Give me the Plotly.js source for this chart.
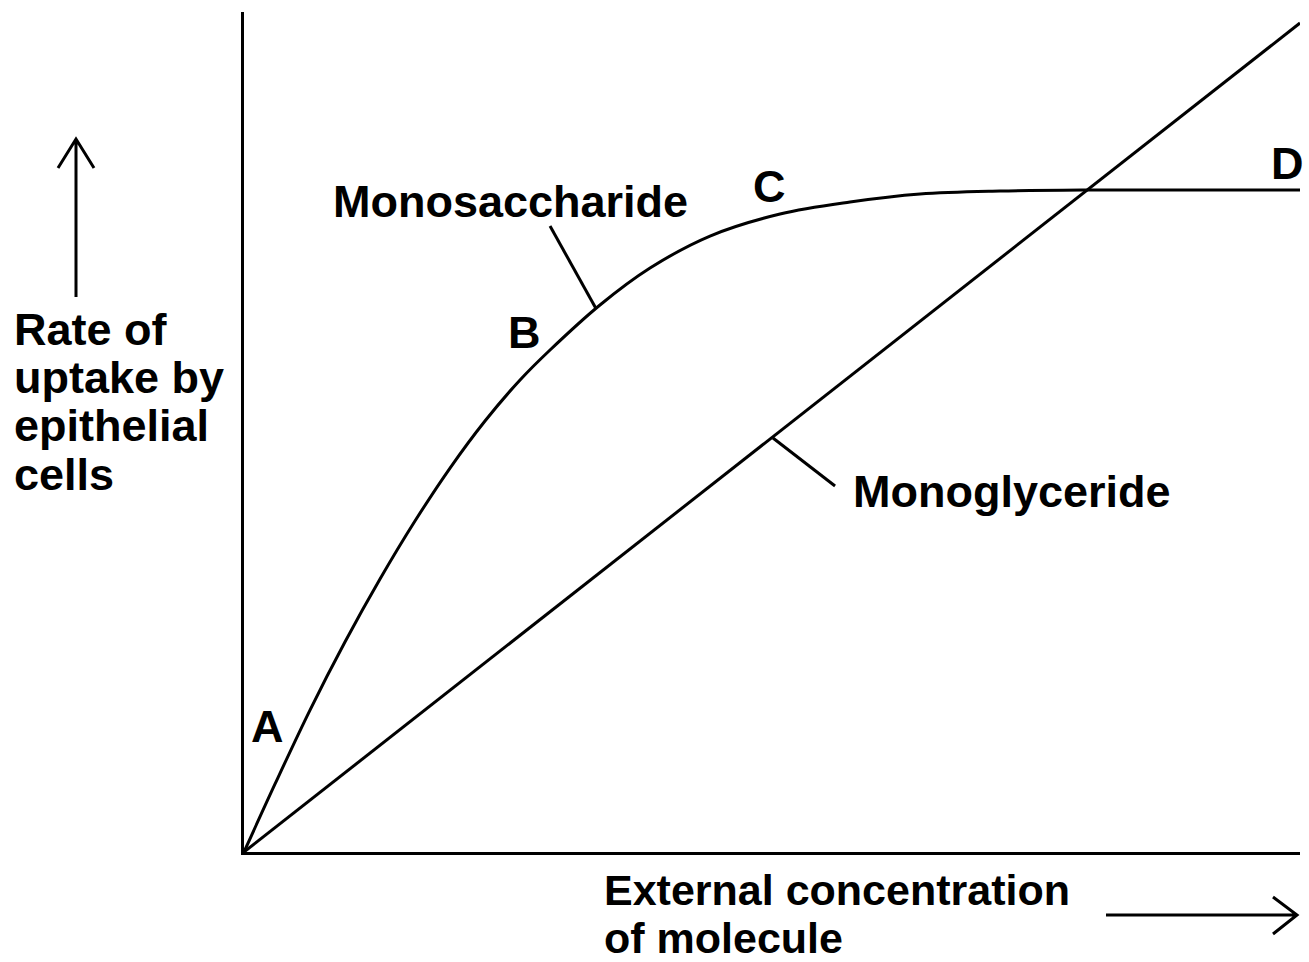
<!DOCTYPE html>
<html>
<head>
<meta charset="utf-8">
<script src="https://cdn.plot.ly/plotly-3.0.1.min.js"></script>
<style>html,body{margin:0;padding:0;background:#fff;}#chart{width:1309px;height:962px;}</style>
</head>
<body>
<div id="chart"></div>
<script>
// Monosaccharide uptake curve (arbitrary units 0-100)
const monosaccharideX = [0, 2.94, 6.25, 9.56, 12.88, 16.19, 19.51, 22.82, 26.14, 28.98, 33.71, 38.45, 44.13, 50.76, 57.39, 64.02, 71.59, 79.92, 100];
const monosaccharideY = [0, 8.10, 16.90, 25.00, 32.50, 39.40, 45.71, 51.31, 56.19, 59.76, 65.12, 69.52, 73.33, 75.95, 77.38, 78.33, 78.69, 78.81, 78.81];
// Monoglyceride uptake (straight line)
const monoglycerideX = [0, 100];
const monoglycerideY = [0, 98.69];
// Point labels
const pointLabels = ['A', 'B', 'C', 'D'];
const pointLabelX = [2.18, 26.6, 49.8, 98.8];
const pointLabelY = [15.0, 61.8, 79.2, 82.0];
// Series labels and leader lines
const seriesNames = ['Monosaccharide', 'Monoglyceride'];
const seriesLabelX = [25.19, 72.73];
const seriesLabelY = [77.44, 42.92];
const leaderX0 = [28.98, 55.97];
const leaderY0 = [74.52, 43.57];
const leaderX1 = [33.33, 50.09];
const leaderY1 = [64.70, 49.29];
// Axis titles
const yTitleLines = ['Rate of', 'uptake by', 'epithelial', 'cells'];
const xTitleLines = ['External concentration', 'of molecule'];

const W = 1309, H = 962, L = 244, R = 9, T = 12, B = 110;
const PW = W - L - R, PH = H - T - B;
const pX = px => (px - L) / PW;
const pY = py => (H - B - py) / PH;

const FONT = {family: 'Liberation Sans, Arial, Helvetica, sans-serif', size: 45, color: '#000'};
const XFONT = {family: 'Liberation Sans, Arial, Helvetica, sans-serif', size: 43, color: '#000'};
const LINE = {color: '#000', width: 3};

const traces = [
  {x: monosaccharideX, y: monosaccharideY, type: 'scatter', mode: 'lines',
   line: {color: '#000', width: 3, shape: 'spline', smoothing: 1}, hoverinfo: 'skip', cliponaxis: false},
  {x: monoglycerideX, y: monoglycerideY, type: 'scatter', mode: 'lines',
   line: {color: '#000', width: 3}, hoverinfo: 'skip', cliponaxis: false}
];

const annotations = [];
pointLabels.forEach((t, i) => annotations.push({
  x: pointLabelX[i], y: pointLabelY[i], xref: 'x', yref: 'y', text: '<b>' + t + '</b>',
  showarrow: false, xanchor: 'center', yanchor: 'middle', font: FONT
}));
seriesNames.forEach((t, i) => annotations.push({
  x: seriesLabelX[i], y: seriesLabelY[i], xref: 'x', yref: 'y', text: '<b>' + t + '</b>',
  showarrow: false, xanchor: 'center', yanchor: 'middle', font: FONT
}));
const yTitleCenters = [329, 377, 425, 474];
yTitleLines.forEach((t, i) => annotations.push({
  x: pX(12), y: pY(yTitleCenters[i]), xref: 'paper', yref: 'paper', text: '<b>' + t + '</b>',
  showarrow: false, xanchor: 'left', yanchor: 'middle', font: FONT
}));
const xTitleCenters = [890, 938];
xTitleLines.forEach((t, i) => annotations.push({
  x: pX(603), y: pY(xTitleCenters[i]), xref: 'paper', yref: 'paper', text: '<b>' + t + '</b>',
  showarrow: false, xanchor: 'left', yanchor: 'middle', font: XFONT, borderpad: 0
}));

const shapes = [];
seriesNames.forEach((t, i) => shapes.push({
  type: 'line', xref: 'x', yref: 'y', x0: leaderX0[i], y0: leaderY0[i], x1: leaderX1[i], y1: leaderY1[i], line: LINE
}));
// y direction arrow
shapes.push({type: 'path', xref: 'paper', yref: 'paper', line: LINE,
  path: `M ${pX(76)} ${pY(297)} L ${pX(76)} ${pY(139)} M ${pX(58)} ${pY(168)} L ${pX(76)} ${pY(139)} L ${pX(94)} ${pY(168)}`});
// x direction arrow
shapes.push({type: 'path', xref: 'paper', yref: 'paper', line: LINE,
  path: `M ${pX(1106)} ${pY(915)} L ${pX(1297)} ${pY(915)} M ${pX(1273)} ${pY(897)} L ${pX(1297)} ${pY(915)} L ${pX(1273)} ${pY(934)}`});

const layout = {
  width: W, height: H,
  margin: {l: L, r: R, t: T, b: B, pad: 0},
  paper_bgcolor: '#fff', plot_bgcolor: '#fff',
  showlegend: false,
  xaxis: {range: [0, 100], showline: true, linecolor: '#000', linewidth: 3, showgrid: false,
          zeroline: false, showticklabels: false, ticks: '', fixedrange: true},
  yaxis: {range: [0, 100], showline: true, linecolor: '#000', linewidth: 3, showgrid: false,
          zeroline: false, showticklabels: false, ticks: '', fixedrange: true},
  annotations: annotations,
  shapes: shapes
};

Plotly.newPlot('chart', traces, layout, {displayModeBar: false, staticPlot: true});
</script>
</body>
</html>
